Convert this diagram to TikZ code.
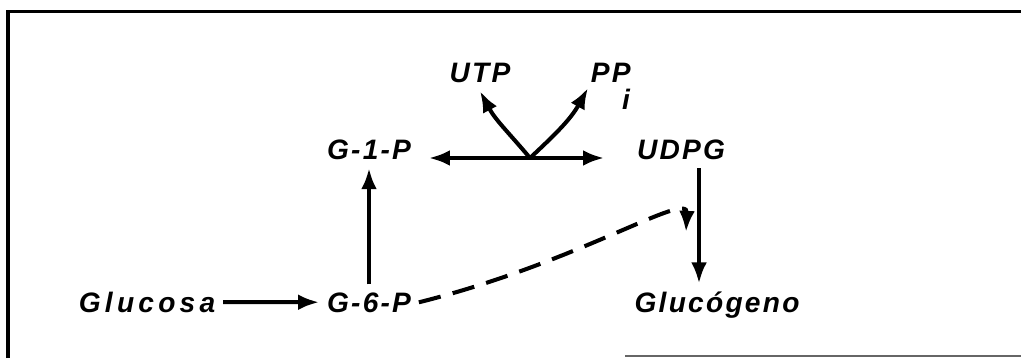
\documentclass[tikz,border=0pt]{standalone}
\usepackage{fontspec}
\setmainfont{Liberation Sans}
\newfontfamily\hand[LetterSpace=8]{Liberation Sans}
\newfontfamily\handwide[LetterSpace=15]{Liberation Sans}
\usetikzlibrary{arrows.meta,calc}

\begin{document}
\begin{tikzpicture}[x=1cm,y=1cm,line width=2.3pt,
    chem/.style={font=\hand\fontsize{16}{19}\selectfont\bfseries\itshape},
    chemwide/.style={font=\handwide\fontsize{16}{19}\selectfont\bfseries\itshape},
    arr/.style={-{Latex[length=12pt,width=9pt]}},
    darr/.style={{Latex[length=12pt,width=9pt]}-{Latex[length=12pt,width=9pt]}}]
  \useasboundingbox (0,0) rectangle (20.42,7.16);
  % frame, open on the right
  \draw[line width=1.8pt] (0.16,0) -- (0.16,6.93) -- (20.42,6.93);
  \draw[black!60,line width=0.6pt] (12.5,0.04) -- (20.42,0.04);
  % compounds
  \node[chem,anchor=base] (utp) at (9.6,5.5) {UTP};
  \node[chem,anchor=base west] (ppi) at (11.66,5.5) {PP\hspace{-0.3em}\raisebox{-0.95em}{i}};
  \node[chem,anchor=base] (g1p) at (7.38,3.96) {G-1-P};
  \node[chem,anchor=base] (udpg) at (13.62,3.96) {UDPG};
  \node[chemwide,anchor=base] (glucosa) at (2.94,0.92) {Glucosa};
  \node[chem,anchor=base] (g6p) at (7.38,0.92) {G-6-P};
  \node[chem,anchor=base] (glucogeno) at (14.34,0.92) {Glucógeno};
  \coordinate (split) at (10.6,4.0);
  \coordinate (drop) at (13.98,0);
  \coordinate (joint) at (13.72,2.52);
  % reactions
  \draw[arr] (glucosa) -- (g6p);
  \draw[arr] (g6p) -- (g1p);
  \draw[darr,shorten <=0.2cm,shorten >=0.5cm] (g1p.east |- split) -- (udpg.west |- split);
  \draw[arr] (split) to[out=130,in=-62] (utp.south);
  \draw[arr] (split) to[out=43,in=-119] ($(ppi.base west)+(0.1,-0.1)$);
  \draw[arr] (udpg.south -| drop) -- (glucogeno.north -| drop);
  \draw[arr,dash pattern=on 0.45cm off 0.25cm] (g6p.east) .. controls (11.6,1.92) and (13.76,3.36) .. (joint);
\end{tikzpicture}
\end{document}
